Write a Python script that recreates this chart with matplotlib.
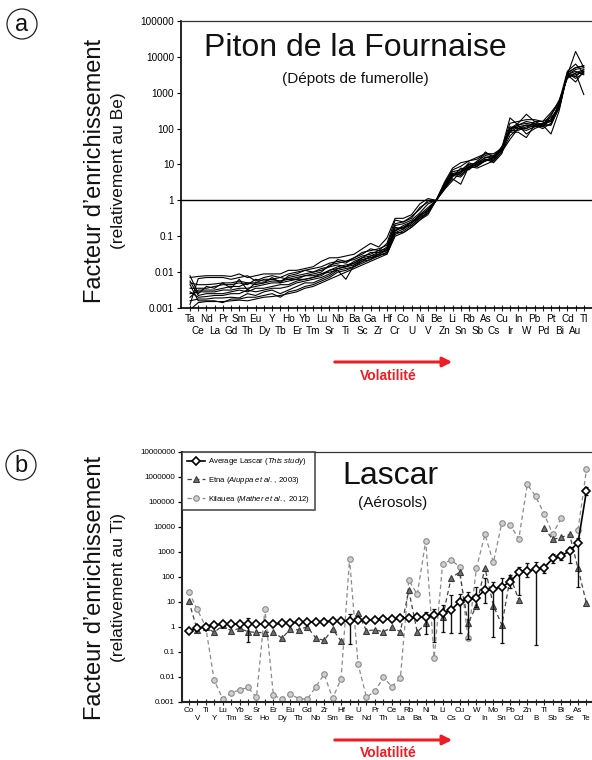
import numpy as np
import matplotlib
matplotlib.use('Agg')
import matplotlib.pyplot as plt
from matplotlib.patches import Ellipse
from matplotlib.ticker import FixedLocator, FixedFormatter, NullLocator

plt.rcParams['font.family'] = ['Liberation Sans', 'DejaVu Sans']
plt.rcParams['mathtext.fontset'] = 'custom'
plt.rcParams['mathtext.it'] = 'Liberation Sans:italic'
plt.rcParams['mathtext.rm'] = 'Liberation Sans'

# ---------------- Panel a : Piton de la Fournaise (log10 of enrichment factor) -------------
elements_a = ["Ta", "Ce", "Nd", "La", "Pr", "Gd", "Sm", "Th", "Eu", "Dy", "Y", "Tb", "Ho", "Er",
              "Yb", "Tm", "Lu", "Sr", "Nb", "Ti", "Ba", "Sc", "Ga", "Zr", "Hf", "Cr", "Co", "U",
              "Ni", "V", "Be", "Zn", "Li", "Sn", "Rb", "Sb", "As", "Cs", "Cu", "Ir", "In", "W",
              "Pb", "Pd", "Pt", "Bi", "Cd", "Au", "Tl"]

fum_01 = [-2.15, -2.12, -2.10, -2.10, -2.10, -2.12, -2.05, -2.15, -2.10, -2.05, -2.05, -2.05, -1.95, -1.95, -1.90, -1.85, -1.70, -1.60, -1.60, -1.55, -1.50, -1.35, -1.20, -1.30, -1.05, -0.50, -0.50, -0.40, -0.10, 0.05, 0.00, 0.50, 0.90, 1.05, 1.10, 1.20, 1.30, 1.25, 1.45, 2.30, 2.10, 2.20, 2.15, 2.10, 2.40, 2.70, 3.50, 4.15, 3.70]
fum_02 = [-2.90, -2.18, -2.15, -2.15, -2.15, -2.20, -2.15, -2.10, -2.25, -2.15, -2.10, -2.15, -2.05, -2.00, -1.95, -1.90, -1.85, -1.75, -1.70, -1.75, -1.60, -1.50, -1.35, -1.40, -1.20, -0.55, -0.60, -0.50, -0.20, -0.05, 0.00, 0.45, 0.80, 0.85, 1.00, 1.05, 1.35, 1.20, 1.40, 2.00, 2.15, 2.40, 2.20, 2.20, 2.30, 2.60, 3.55, 3.70, 3.75]
fum_03 = [-2.30, -2.35, -2.35, -2.33, -2.30, -2.30, -2.25, -2.30, -2.30, -2.20, -2.20, -2.25, -2.15, -2.10, -2.05, -2.00, -1.95, -1.85, -1.80, -1.85, -1.70, -1.60, -1.45, -1.45, -1.30, -0.70, -0.65, -0.55, -0.35, -0.10, 0.00, 0.40, 0.75, 0.70, 0.95, 1.00, 1.10, 1.20, 1.40, 1.90, 2.05, 2.00, 2.10, 2.15, 2.20, 2.70, 3.45, 3.50, 3.60]
fum_04 = [-2.45, -2.45, -2.45, -2.40, -2.35, -2.35, -2.30, -2.35, -2.20, -2.25, -2.20, -2.15, -2.20, -2.15, -2.10, -2.05, -2.00, -1.80, -1.75, -1.70, -1.65, -1.55, -1.50, -1.40, -1.35, -0.80, -0.75, -0.60, -0.40, -0.20, 0.00, 0.35, 0.70, 0.65, 0.90, 0.95, 1.15, 1.10, 1.35, 1.80, 2.00, 1.95, 2.05, 2.10, 2.10, 2.60, 3.50, 3.60, 3.50]
fum_05 = [-2.70, -2.50, -2.50, -2.50, -2.45, -2.40, -2.40, -2.30, -2.35, -2.30, -2.25, -2.25, -2.20, -2.20, -2.10, -2.10, -2.05, -1.95, -1.85, -1.80, -1.75, -1.60, -1.55, -1.45, -1.40, -0.85, -0.70, -0.60, -0.45, -0.25, 0.00, 0.30, 0.65, 0.90, 0.85, 1.05, 1.20, 1.15, 1.45, 1.95, 1.95, 2.05, 2.15, 2.05, 2.25, 2.55, 3.50, 3.45, 3.65]
fum_06 = [-2.60, -2.55, -2.55, -2.55, -2.50, -2.50, -2.45, -2.45, -2.40, -2.35, -2.30, -2.30, -2.25, -2.20, -2.20, -2.15, -2.10, -1.95, -1.90, -1.85, -1.75, -1.65, -1.60, -1.50, -1.35, -0.75, -0.80, -0.65, -0.40, -0.30, 0.00, 0.40, 0.70, 0.75, 1.00, 0.95, 1.10, 1.20, 1.40, 2.00, 2.10, 1.85, 2.00, 2.10, 1.85, 2.50, 3.55, 3.40, 3.55]
fum_07 = [-2.25, -2.65, -2.60, -2.60, -2.60, -2.55, -2.50, -2.55, -2.45, -2.45, -2.40, -2.35, -2.35, -2.25, -2.20, -2.15, -2.05, -2.00, -1.95, -2.20, -1.80, -1.70, -1.55, -1.50, -1.40, -0.90, -0.80, -0.60, -0.50, -0.30, 0.00, 0.35, 0.60, 0.45, 0.95, 0.90, 1.00, 1.10, 1.35, 1.70, 2.00, 2.10, 2.05, 2.15, 2.20, 2.65, 3.50, 3.30, 3.60]
fum_08 = [-2.55, -2.70, -2.68, -2.65, -2.65, -2.60, -2.60, -2.50, -2.55, -2.50, -2.45, -2.45, -2.40, -2.30, -2.25, -2.20, -2.15, -2.05, -1.90, -1.85, -1.80, -1.65, -1.60, -1.55, -1.45, -0.85, -0.75, -0.70, -0.45, -0.25, 0.00, 0.45, 0.75, 0.80, 0.90, 1.10, 1.25, 1.20, 1.50, 1.90, 1.90, 1.75, 2.10, 2.00, 2.15, 2.70, 3.45, 3.55, 2.95]
fum_09 = [-2.80, -2.75, -2.75, -2.72, -2.72, -2.70, -2.72, -2.60, -2.65, -2.55, -2.50, -2.60, -2.50, -2.40, -2.30, -2.30, -2.20, -2.10, -1.95, -1.90, -1.85, -1.70, -1.65, -1.50, -1.50, -0.95, -0.85, -0.70, -0.50, -0.35, 0.00, 0.35, 0.70, 0.80, 1.05, 0.95, 1.15, 1.05, 1.30, 2.00, 2.05, 2.10, 2.10, 2.15, 2.25, 2.65, 3.50, 3.65, 3.70]
fum_10 = [-2.35, -2.80, -2.80, -2.80, -2.85, -2.75, -2.75, -2.70, -2.70, -2.65, -2.60, -2.70, -2.55, -2.50, -2.40, -2.35, -2.25, -2.15, -2.00, -1.95, -1.85, -1.75, -1.65, -1.55, -1.45, -0.90, -0.90, -0.75, -0.55, -0.35, 0.00, 0.30, 0.55, 0.80, 0.95, 1.00, 1.20, 1.20, 1.40, 2.05, 2.00, 2.00, 2.20, 2.10, 2.10, 2.60, 3.55, 3.70, 3.75]
fum_11 = [-3.05, -2.85, -2.82, -2.82, -2.82, -2.80, -2.78, -2.80, -2.75, -2.70, -2.68, -2.65, -2.60, -2.55, -2.45, -2.40, -2.30, -2.20, -2.10, -2.00, -1.90, -1.80, -1.70, -1.60, -1.50, -1.00, -0.90, -0.75, -0.55, -0.40, 0.00, 0.35, 0.75, 0.70, 0.90, 1.05, 1.10, 1.15, 1.40, 1.95, 2.10, 2.15, 2.10, 2.05, 2.35, 2.80, 3.40, 3.55, 3.65]
fum_12 = [-2.10, -2.60, -2.40, -2.45, -2.30, -2.45, -2.20, -2.50, -2.30, -2.30, -2.15, -2.30, -2.10, -2.05, -1.95, -2.00, -1.90, -1.85, -1.65, -1.70, -1.60, -1.45, -1.40, -1.35, -1.25, -0.65, -0.60, -0.45, -0.25, 0.00, 0.00, 0.45, 0.85, 0.95, 1.10, 1.15, 1.30, 1.30, 1.45, 2.15, 2.20, 2.25, 2.25, 2.20, 2.45, 2.75, 3.60, 3.80, 3.55]
fumarole_series = [fum_01, fum_02, fum_03, fum_04, fum_05, fum_06, fum_07, fum_08, fum_09, fum_10, fum_11, fum_12]

yticks_a = [0.001, 0.01, 0.1, 1, 10, 100, 1000, 10000, 100000]
ytick_labels_a = ["0.001", "0.01", "0.1", "1", "10", "100", "1000", "10000", "100000"]

# ---------------- Panel b : Lascar aerosols (log10 of enrichment factor, relative to Ti) ----
elements_b = ["Co", "V", "Ti", "Y", "Lu", "Tm", "Yb", "Sc", "Sr", "Ho", "Er", "Dy", "Eu", "Tb",
              "Gd", "Nb", "Zr", "Sm", "Hf", "Be", "U", "Nd", "Pr", "Th", "Ce", "La", "Rb", "Ba",
              "Ni", "Ta", "Li", "Cs", "Cu", "Cr", "W", "In", "Mo", "Sn", "Pb", "Cd", "Zn", "B",
              "Tl", "Sb", "Bi", "Se", "As", "Te"]

nan = np.nan
lascar_log10 = [-0.16, -0.07, 0.00, 0.07, 0.10, 0.10, 0.10, 0.10, 0.10, 0.10, 0.11, 0.13, 0.16, 0.17,
                0.19, 0.20, 0.20, 0.23, 0.24, 0.24, 0.25, 0.27, 0.28, 0.31, 0.31, 0.33, 0.35, 0.37,
                0.40, 0.47, 0.53, 0.67, 1.00, 1.09, 1.16, 1.47, 1.51, 1.60, 1.80, 2.17, 2.23, 2.29,
                2.36, 2.73, 2.83, 3.03, 3.36, 5.44]
lascar_err_low_log10 = [nan, nan, nan, nan, nan, nan, nan, -0.60, nan, nan, nan, nan, nan, nan,
                        nan, nan, nan, nan, nan, -0.70, nan, nan, nan, nan, nan, nan, nan, nan,
                        -0.30, -0.60, -0.20, -0.25, -0.25, -0.50, 0.80, 0.96, -0.40, -0.65, 1.53, 1.27, 2.00, -0.75,
                        2.13, 2.55, 2.68, 2.56, 1.60, 5.27]
lascar_err_high_log10 = [nan, nan, nan, nan, nan, nan, nan, 0.33, nan, nan, nan, nan, nan, nan,
                         nan, nan, nan, nan, nan, 0.50, nan, nan, nan, nan, nan, nan, nan, nan,
                         0.60, 0.70, 0.85, 1.25, 1.30, 1.40, 1.60, 1.93, 1.80, 1.93, 2.07, 2.40, 2.56, 2.60,
                         2.47, 2.90, 2.97, 3.20, 3.53, 5.60]
etna_log10 = [1.03, -0.13, 0.00, -0.23, 0.05, -0.16, -0.07, -0.20, -0.23, -0.24, -0.20, -0.46, -0.10, -0.13,
              0.00, -0.45, -0.55, -0.09, -0.58, nan, 0.55, -0.16, -0.13, -0.20, -0.03, -0.20, 1.45, -0.22,
              0.13, nan, 0.38, 1.95, 2.18, 0.13, 0.84, 2.36, 0.84, 0.07, 2.00, 1.07, nan, nan,
              3.96, 3.49, 3.57, 3.69, 2.33, 0.93]
kilauea_log10 = [1.40, 0.69, 0.00, -2.14, -2.88, -2.65, -2.53, -2.43, -2.83, 0.69, -2.75, -2.88, -2.69, -2.88,
                 -2.90, -2.41, -1.90, -2.87, -2.08, 2.71, -1.49, -2.82, -2.58, -2.03, -2.40, -2.06, 1.87, 1.29,
                 3.43, -1.24, 2.51, 2.67, 2.40, -0.47, 2.36, 3.69, 2.57, 4.16, 4.07, 3.51, 5.69, 5.22,
                 4.51, 3.71, 4.33, nan, 3.87, 6.29]

yticks_b = [0.001, 0.01, 0.1, 1, 10, 100, 1000, 10000, 100000, 1000000, 10000000]
ytick_labels_b = ["0.001", "0.01", "0.1", "1", "10", "100", "1000", "10000", "100000", "1000000", "10000000"]

# ---------------------------------------------------------------------------------------------
W, H = 592, 760
fig = plt.figure(figsize=(W / 100, H / 100), dpi=100)


def fx(px):
    return px / W


def fy(py):
    return 1 - py / H


def style_xaxis(ax, labels, fs, pad_major, pad_minor):
    n = len(labels)
    ax.xaxis.set_major_locator(FixedLocator(list(range(0, n, 2))))
    ax.xaxis.set_major_formatter(FixedFormatter(labels[0::2]))
    ax.xaxis.set_minor_locator(FixedLocator(list(range(1, n, 2))))
    ax.xaxis.set_minor_formatter(FixedFormatter(labels[1::2]))
    ax.tick_params(axis='x', which='major', direction='inout', length=4, width=0.8,
                   labelsize=fs, pad=pad_major, color='#222222')
    ax.tick_params(axis='x', which='minor', direction='inout', length=4, width=0.8,
                   labelsize=fs, pad=pad_minor, color='#222222')


# ---------------- Panel a axes
x_a = np.arange(len(elements_a))
ax1 = fig.add_axes([fx(181), fy(308), fx(592 - 181), (308 - 21) / H])
for s in fumarole_series:
    ax1.plot(x_a, 10 ** np.array(s), color='black', lw=0.8)
ax1.axhline(1, color='black', lw=1.0)
ax1.set_yscale('log')
ax1.set_ylim(0.001, 100000)
ax1.set_xlim(-1.1, 49.0)
ax1.yaxis.set_major_locator(FixedLocator(yticks_a))
ax1.yaxis.set_major_formatter(FixedFormatter(ytick_labels_a))
ax1.yaxis.set_minor_locator(NullLocator())
ax1.tick_params(axis='y', which='major', direction='out', length=3, width=0.8, labelsize=7.2, pad=2)
style_xaxis(ax1, elements_a, 7.2, 2.0, 11.0)
ax1.spines['right'].set_visible(False)
for sp in ['left', 'bottom']:
    ax1.spines[sp].set_linewidth(1.2)
ax1.spines['top'].set_linewidth(0.9)
ax1.spines['top'].set_color('#333333')

fig.text(fx(355), fy(48), "Piton de la Fournaise", fontsize=23, ha='center', va='center', color='#111111')
fig.text(fx(355), fy(79), "(Dépots de fumerolle)", fontsize=11, ha='center', va='center', color='#111111')

# ---------------- Panel b axes
x_b = np.arange(len(elements_b))
ax2 = fig.add_axes([fx(182), fy(701.7), fx(592 - 182), 250 / H])
ax2.plot(x_b, 10 ** np.array(kilauea_log10), linestyle=(0, (3.5, 2.5)), color='#8a8a8a', lw=0.9,
         marker='o', markersize=4.0, markerfacecolor='#cfcfcf', markeredgecolor='#8a8a8a',
         markeredgewidth=0.8, label=r"Kilauea $\mathit{(Mather\ et\ al.,\ 2012)}$", zorder=2)
ax2.plot(x_b, 10 ** np.array(etna_log10), linestyle=(0, (3.5, 2.5)), color='#444444', lw=0.9,
         marker='^', markersize=3.8, markerfacecolor='#707070', markeredgecolor='#3a3a3a',
         markeredgewidth=0.8, label=r"Etna $\mathit{(Aiuppa\ et\ al.,\ 2003)}$", zorder=3)

lv = 10 ** np.array(lascar_log10)
lo = 10 ** np.array(lascar_err_low_log10)
hi = 10 ** np.array(lascar_err_high_log10)
has_err = ~np.isnan(lo)
ax2.errorbar(x_b[has_err], lv[has_err], yerr=[lv[has_err] - lo[has_err], hi[has_err] - lv[has_err]],
             fmt='none', ecolor='#111111', elinewidth=1.0, capsize=1.6, capthick=0.9, zorder=4)
ax2.plot(x_b, lv, linestyle='-', color='black', lw=1.2, marker='D', markersize=4.2,
         markerfacecolor='white', markeredgecolor='black', markeredgewidth=1.2,
         label=r"Average Lascar $\mathit{(This\ study)}$", zorder=5)

ax2.set_yscale('log')
ax2.set_ylim(0.001, 10000000)
ax2.set_xlim(-0.8, 47.65)
ax2.yaxis.set_major_locator(FixedLocator(yticks_b))
ax2.yaxis.set_major_formatter(FixedFormatter(ytick_labels_b))
ax2.yaxis.set_minor_locator(NullLocator())
ax2.tick_params(axis='y', which='major', direction='out', length=3, width=0.9, labelsize=5.8, pad=2)
style_xaxis(ax2, elements_b, 5.8, 1.5, 7.5)
ax2.spines['right'].set_visible(False)
for sp in ['left', 'bottom']:
    ax2.spines[sp].set_linewidth(1.5)
    ax2.spines[sp].set_color('#222222')
ax2.spines['top'].set_linewidth(0.9)
ax2.spines['top'].set_color('#333333')

handles, labels = ax2.get_legend_handles_labels()
leg = ax2.legend(handles[::-1], labels[::-1], loc='upper left', bbox_to_anchor=(0, 1),
                 borderaxespad=0, fontsize=5.6, frameon=True, fancybox=False,
                 handlelength=2.4, handletextpad=0.4, borderpad=0.6, labelspacing=1.0)
leg.get_frame().set_edgecolor('#222222')
leg.get_frame().set_linewidth(1.2)

fig.text(fx(390), fy(476), "Lascar", fontsize=23, ha='center', va='center', color='#111111')
fig.text(fx(393), fy(503), "(Aérosols)", fontsize=11, ha='center', va='center', color='#111111')

# ---------------- y labels
for cy, sub in [(171, "(relativement au Be)"), (588, "(relativement au Ti)")]:
    fig.text(fx(95), fy(cy), "Facteur d’enrichissement", fontsize=17, rotation=90,
             ha='center', va='center', color='#111111')
    fig.text(fx(118), fy(cy), sub, fontsize=12.5, rotation=90, ha='center', va='center', color='#111111')

# ---------------- panel letters
for cx, cy, t in [(22, 24, "a"), (21, 465, "b")]:
    e = Ellipse((fx(cx), fy(cy)), 30 / W, 30 / H, transform=fig.transFigure,
                facecolor='none', edgecolor='#222222', lw=0.9)
    fig.patches.append(e)
    fig.text(fx(cx), fy(cy + 1), t, fontsize=17, ha='center', va='center', color='#111111')

# ---------------- volatility arrows
for ay, ty in [(362, 376), (740, 753)]:
    fig.patches.append(matplotlib.patches.FancyArrowPatch(
        (fx(332), fy(ay)), (fx(455), fy(ay)), transform=fig.transFigure,
        arrowstyle='-|>', mutation_scale=14, lw=2.2, color='#ee1c25'))
    fig.text(fx(388), fy(ty), "Volatilité", fontsize=10, fontweight='bold', color='#ee1c25',
             ha='center', va='center')

fig.savefig('out.png', dpi=100)
